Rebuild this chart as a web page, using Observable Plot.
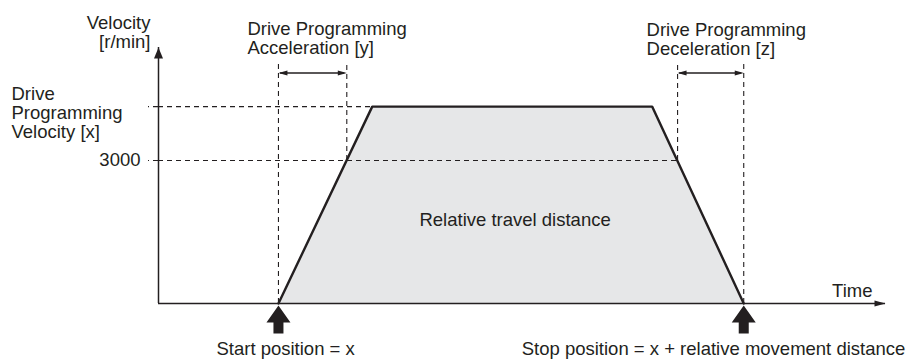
<!DOCTYPE html>
<html><head><meta charset="utf-8">
<script src="https://cdn.jsdelivr.net/npm/d3@7"></script>
<script src="https://cdn.jsdelivr.net/npm/@observablehq/plot@0.6"></script>
<style>body{margin:0;background:#fff} #chart{width:908px;height:361px}</style>
</head><body><div id="chart"></div>
<script>
// ---- Data (time in arbitrary units, velocity in r/min) ----
const profileTime = [16.5, 29.4, 67.9, 80.5];   // start, reach [x], begin decel, stop
const profileVelocity = [0, 4130, 4130, 0];
const refVelocity = 3000;
const progVelocity = 4130;
const accelSpan = [16.5, 25.9];   // start -> 3000 r/min
const decelSpan = [71.4, 80.5];   // 3000 r/min -> stop
const timeMax = 100;
const velocityMax = 5370;
const spanLevel = 4835;
const guideTop = 5055;
const yTickValues = [3000, 4130];
const yTickLabels = ["3000", ""];
const labels = {
  yTitle: "Velocity\n[r/min]",
  xTitle: "Time",
  progVel: "Drive\nProgramming\nVelocity [x]",
  accel: "Drive Programming\nAcceleration [y]",
  decel: "Drive Programming\nDeceleration [z]",
  area: "Relative travel distance",
  start: "Start position = x",
  stop: "Stop position = x + relative movement distance"
};

const ink = "#231f20";
const profile = profileTime.map((t, i) => ({t, v: profileVelocity[i]}));

function head(len, w) {
  return {draw(ctx) { ctx.moveTo(0, 0); ctx.lineTo(-w / 2, len); ctx.lineTo(w / 2, len); ctx.closePath(); }};
}
const bigArrow = {draw(ctx) {
  ctx.moveTo(0, 0); ctx.lineTo(12, 17); ctx.lineTo(5, 17); ctx.lineTo(5, 28);
  ctx.lineTo(-5, 28); ctx.lineTo(-5, 17); ctx.lineTo(-12, 17); ctx.closePath();
}};
const dash = {stroke: ink, strokeWidth: 1.1, strokeDasharray: "5,4"};
const txt = {fill: ink, lineAnchor: "top", lineHeight: 1.03};

const chart = Plot.plot({
  width: 908, height: 361,
  marginLeft: 158, marginRight: 23, marginTop: 47, marginBottom: 58,
  x: {domain: [0, timeMax], axis: null},
  y: {domain: [0, velocityMax], axis: null},
  style: {fontFamily: "'Liberation Sans', Arial, sans-serif", fontSize: "18.5px", color: ink, background: "#fff"},
  marks: [
    Plot.areaY(profile, {x: "t", y: "v", fill: "#e6e7e8"}),
    // dashed guides
    Plot.ruleY([progVelocity], {x1: 0, x2: profileTime[1], ...dash}),
    Plot.ruleY([refVelocity], {x1: 0, x2: decelSpan[0], ...dash}),
    Plot.ruleX([accelSpan[0], decelSpan[1]], {y1: 0, y2: guideTop, ...dash}),
    Plot.ruleX([accelSpan[1], decelSpan[0]], {y1: refVelocity, y2: guideTop, ...dash}),
    Plot.axisY(yTickValues, {label: null, tickSize: 10, tickPadding: 8, tickFormat: d => yTickLabels[yTickValues.indexOf(d)], ...dash, fill: ink, fontSize: 18.5}),
    // axes
    Plot.ruleX([0], {y1: 0, y2: velocityMax, stroke: ink, strokeWidth: 1.5}),
    Plot.ruleY([0], {x1: 0, x2: timeMax, stroke: ink, strokeWidth: 1.3}),
    Plot.dot([{t: 0, v: velocityMax, r: 0}], {x: "t", y: "v", rotate: "r", symbol: head(11, 9), fill: ink, stroke: "none", r: 3}),
    Plot.dot([{t: timeMax, v: 0, r: 90}], {x: "t", y: "v", rotate: "r", symbol: head(11, 6), fill: ink, stroke: "none", r: 3}),
    // span arrows
    Plot.ruleY([spanLevel], {x1: accelSpan[0], x2: accelSpan[1], stroke: ink, strokeWidth: 1.3, insetLeft: 2, insetRight: 2}),
    Plot.ruleY([spanLevel], {x1: decelSpan[0], x2: decelSpan[1], stroke: ink, strokeWidth: 1.3, insetLeft: 2, insetRight: 2}),
    Plot.dot([
      {t: accelSpan[0], r: -90}, {t: accelSpan[1], r: 90},
      {t: decelSpan[0], r: -90}, {t: decelSpan[1], r: 90}
    ], {x: "t", y: spanLevel, rotate: "r", symbol: head(9, 5), fill: ink, stroke: "none", r: 3}),
    // profile outline
    Plot.line(profile, {x: "t", y: "v", stroke: ink, strokeWidth: 2.4, strokeLinejoin: "miter"}),
    // position arrows
    Plot.dot([profileTime[0], profileTime[3]], {x: d => d, y: 0, dy: 2, symbol: bigArrow, fill: ink, stroke: "none", r: 3}),
    // labels
    Plot.text([labels.yTitle], {x: 0, y: velocityMax, text: d => d, dx: -8, dy: -32, textAnchor: "end", ...txt}),
    Plot.text([labels.progVel], {x: 0, y: progVelocity, text: d => d, dx: -147, dy: -20, textAnchor: "start", ...txt}),
    Plot.text([labels.accel], {x: accelSpan[0], y: guideTop, text: d => d, dx: -31, dy: -41, textAnchor: "start", ...txt}),
    Plot.text([labels.decel], {x: decelSpan[0], y: guideTop, text: d => d, dx: -31, dy: -40, textAnchor: "start", ...txt}),
    Plot.text([labels.area], {x: (profileTime[0] + profileTime[3]) / 2, y: refVelocity, text: d => d, dx: 4, dy: 52, textAnchor: "middle", ...txt}),
    Plot.text([labels.xTitle], {x: timeMax, y: 0, text: d => d, dx: -13, dy: -20, textAnchor: "end", ...txt}),
    Plot.text([labels.start], {x: profileTime[0], y: 0, text: d => d, dx: -62, dy: 38, textAnchor: "start", ...txt}),
    Plot.text([labels.stop], {x: profileTime[3], y: 0, text: d => d, dx: -222, dy: 38, textAnchor: "start", ...txt})
  ]
});
document.getElementById("chart").appendChild(chart);
</script>
</body></html>
